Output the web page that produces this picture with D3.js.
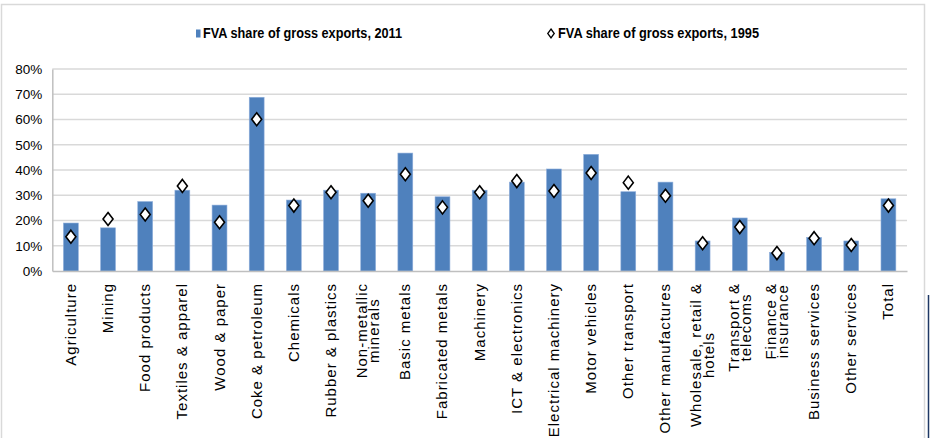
<!DOCTYPE html>
<html>
<head>
<meta charset="utf-8">
<script src="https://cdn.jsdelivr.net/npm/d3@7"></script>
<style>
  html, body { margin: 0; padding: 0; background: #fff; }
  svg { display: block; }
</style>
</head>
<body>
<svg id="chart" width="930" height="438"></svg>
<script>
const categories = [
  "Agriculture", "Mining", "Food products", "Textiles & apparel", "Wood & paper",
  "Coke & petroleum", "Chemicals", "Rubber & plastics", "Non-metallic minerals",
  "Basic metals", "Fabricated metals", "Machinery", "ICT & electronics",
  "Electrical machinery", "Motor vehicles", "Other transport", "Other manufactures",
  "Wholesale, retail & hotels", "Transport & telecoms", "Finance & insurance",
  "Business services", "Other services", "Total"
];
// label lines (wrapped as in the original)
const categoryLines = [
  ["Agriculture"], ["Mining"], ["Food products"], ["Textiles & apparel"], ["Wood & paper"],
  ["Coke & petroleum"], ["Chemicals"], ["Rubber & plastics"], ["Non-metallic", "minerals"],
  ["Basic metals"], ["Fabricated metals"], ["Machinery"], ["ICT & electronics"],
  ["Electrical machinery"], ["Motor vehicles"], ["Other transport"], ["Other manufactures"],
  ["Wholesale, retail &", "hotels"], ["Transport &", "telecoms"], ["Finance &", "insurance"],
  ["Business services"], ["Other services"], ["Total"]
];
const fva2011 = [19.0, 17.1, 27.5, 32.0, 26.1, 68.8, 28.1, 32.0, 30.8, 46.7, 29.4, 32.0, 35.2,
                 40.4, 46.2, 31.4, 35.2, 11.9, 21.0, 7.4, 13.3, 11.9, 28.6];
const fva1995 = [13.6, 20.6, 22.4, 33.7, 19.3, 60.1, 25.9, 31.2, 27.8, 38.3, 25.2, 31.2, 35.6,
                 31.7, 38.8, 35.0, 29.8, 11.0, 17.4, 7.1, 13.0, 10.3, 25.9];
const yTicks = [0, 10, 20, 30, 40, 50, 60, 70, 80];
const seriesNames = ["FVA share of gross exports, 2011", "FVA share of gross exports, 1995"];

const svg = d3.select("#chart");
const plotLeft = 52.3, plotRight = 907, plotTop = 69, plotBottom = 271;

// outer frame
svg.append("rect").attr("x", 1.5).attr("y", 4.5).attr("width", 923).attr("height", 440)
  .attr("fill", "#fff").attr("stroke", "#d9d9d9").attr("stroke-width", 1.5);
svg.append("line").attr("x1", 928.5).attr("x2", 928.5).attr("y1", 295).attr("y2", 438)
  .attr("stroke", "#1f3864").attr("stroke-width", 1.5);

const x = d3.scaleBand().domain(categories).range([plotLeft, plotRight])
  .paddingInner(0.6).paddingOuter(0.3);
const y = d3.scaleLinear().domain([0, 80]).range([plotBottom, plotTop]);

// gridlines
svg.append("g").selectAll("line").data(yTicks.filter(d => d > 0)).join("line")
  .attr("x1", plotLeft).attr("x2", plotRight)
  .attr("y1", d => y(d)).attr("y2", d => y(d))
  .attr("stroke", "#d9d9d9").attr("stroke-width", 1.5);

// y axis
const yAxis = d3.axisLeft(y).tickValues(yTicks).tickFormat(d => d + "%").tickSize(0).tickPadding(10);
const gy = svg.append("g").attr("transform", `translate(${plotLeft},0)`).call(yAxis);
gy.select(".domain").attr("stroke", "#bfbfbf").attr("stroke-width", 1.5);
gy.selectAll("text").attr("font-family", "Liberation Sans, Arial, sans-serif")
  .attr("font-size", 13.5).attr("fill", "#000");

// bars
svg.append("g").selectAll("rect").data(categories).join("rect")
  .attr("x", d => x(d)).attr("width", x.bandwidth())
  .attr("y", (d, i) => y(fva2011[i])).attr("height", (d, i) => plotBottom - y(fva2011[i]))
  .attr("fill", "#4f81bd").attr("stroke", "#8eaedb").attr("stroke-width", 0.6);

// x axis
const xAxis = d3.axisBottom(x).tickSize(0).tickFormat("");
const gx = svg.append("g").attr("transform", `translate(0,${plotBottom})`).call(xAxis);
gx.select(".domain").attr("stroke", "#bfbfbf").attr("stroke-width", 1.5);

// x labels (rotated)
const lineH = 12.5;
const lbl = svg.append("g").selectAll("text").data(categories).join("text")
  .attr("transform", d => `translate(${x(d) + x.bandwidth() / 2},283) rotate(-90)`)
  .attr("font-family", "Liberation Sans, Arial, sans-serif")
  .attr("font-size", 15).attr("letter-spacing", "1px")
  .attr("fill", "#000");
lbl.each(function(d, i) {
  const lines = categoryLines[i];
  const t = d3.select(this);
  if (lines.length === 1) {
    t.append("tspan").attr("x", 0).attr("y", 5).attr("text-anchor", "end").text(lines[0]);
  } else {
    const first = t.append("tspan").attr("x", 0).attr("y", 5 - lineH / 2).attr("text-anchor", "end").text(lines[0]);
    const w = first.node().getComputedTextLength();
    t.append("tspan").attr("x", -w / 2).attr("y", 5 + lineH / 2).attr("text-anchor", "middle").text(lines[1]);
  }
});

// diamonds
const diamond = (cx, cy, w, h) => `M${cx},${cy - h / 2}L${cx + w / 2},${cy}L${cx},${cy + h / 2}L${cx - w / 2},${cy}Z`;
svg.append("g").selectAll("path").data(categories).join("path")
  .attr("d", (d, i) => diamond(x(d) + x.bandwidth() / 2, y(fva1995[i]), 10, 13))
  .attr("fill", "#fff").attr("stroke", "#000").attr("stroke-width", 1.6);

// legend
const lg = svg.append("g");
lg.append("rect").attr("x", 196).attr("y", 29.5).attr("width", 4.5).attr("height", 8).attr("fill", "#4f81bd");
lg.append("text").attr("x", 203).attr("y", 38).text(seriesNames[0])
  .attr("font-family", "Liberation Sans Narrow, Arial Narrow, sans-serif").attr("font-weight", "bold")
  .attr("font-size", 15).attr("textLength", 199).attr("lengthAdjust", "spacingAndGlyphs").attr("fill", "#000");
lg.append("path").attr("d", diamond(551, 33.5, 6.5, 9)).attr("fill", "#fff").attr("stroke", "#000").attr("stroke-width", 1.3);
lg.append("text").attr("x", 558).attr("y", 38).text(seriesNames[1])
  .attr("font-family", "Liberation Sans Narrow, Arial Narrow, sans-serif").attr("font-weight", "bold")
  .attr("font-size", 15).attr("textLength", 201).attr("lengthAdjust", "spacingAndGlyphs").attr("fill", "#000");
</script>
</body>
</html>
